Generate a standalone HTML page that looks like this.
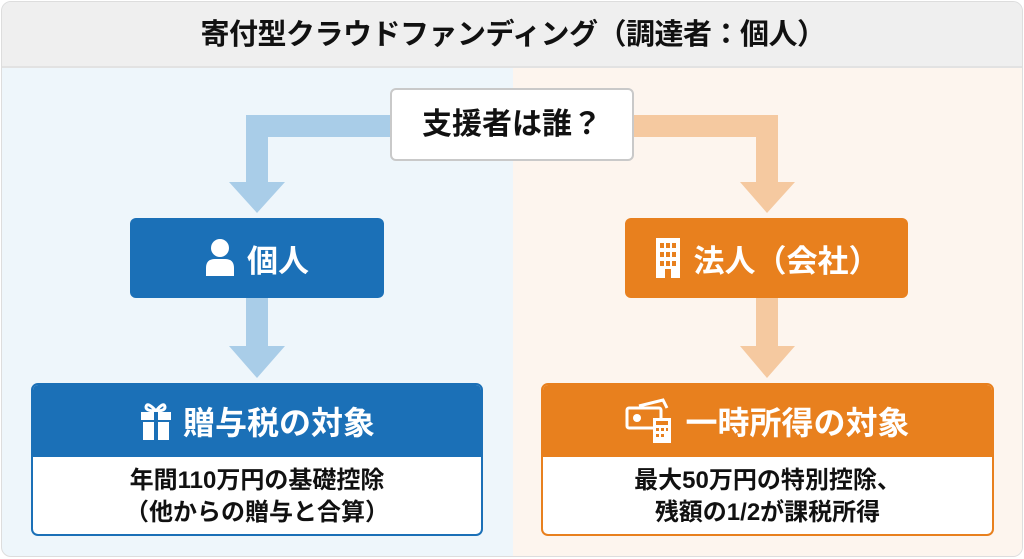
<!DOCTYPE html>
<html><head><meta charset="utf-8"><style>
*{margin:0;padding:0;box-sizing:border-box}
body{width:1024px;height:559px;background:#fff;font-family:"Liberation Sans","Noto Sans CJK JP",sans-serif;font-weight:bold;position:relative;overflow:hidden}
.abs{position:absolute}
.card{left:1px;top:1px;width:1022px;height:556px;border:1px solid #ddd;border-radius:10px;overflow:hidden;background:#eef6fb}
.title{left:0;top:0;width:1022px;height:66px;background:#efefef;border-bottom:2px solid #e2e2e2;text-align:center;line-height:66px;font-size:29px;color:#111;letter-spacing:-0.5px}
.right{left:511px;top:66px;width:512px;height:492px;background:#fdf5ee}
.q{left:390px;top:88px;width:244px;height:73px;background:#fff;border:2px solid #c9c9c9;border-radius:6px;text-align:center;line-height:69px;font-size:30px;color:#111}
.hb{border-radius:6px;color:#fff;font-size:31px;display:flex;align-items:center;justify-content:center;gap:12px}
.box{border-radius:7px;overflow:hidden;background:#fff}
.box .h{height:72px;color:#fff;font-size:32px;display:flex;align-items:center;justify-content:center;gap:10px}
.box .b{text-align:center;font-size:24px;color:#111;line-height:32px;padding-top:8px}
</style></head><body>
<div class="abs card">
<div class="abs right"></div>
<div class="abs title">寄付型クラウドファンディング（調達者：個人）</div>
</div>
<svg class="abs" style="left:0;top:0" width="1024" height="559">
<g fill="#a9cde8">
<rect x="246" y="115" width="146" height="22"/>
<rect x="246" y="115" width="22" height="68"/>
<polygon points="229,182 285,182 257,213"/>
<rect x="246" y="298" width="22" height="50"/>
<polygon points="229,346 285,346 257,378"/>
</g>
<g fill="#f5c9a0">
<rect x="632" y="115" width="146" height="22"/>
<rect x="756" y="115" width="22" height="68"/>
<polygon points="740,182 795,182 767,213"/>
<rect x="756" y="298" width="22" height="50"/>
<polygon points="740,346 795,346 767,378"/>
</g>
</svg>
<div class="abs q">支援者は誰？</div>
<div class="abs hb" style="left:130px;top:218px;width:254px;height:80px;background:#1b70b7">
<svg width="30" height="40" viewBox="0 0 30 40"><circle cx="15" cy="10" r="9" fill="#fff"/><path d="M1 38 V30 Q1 21 10 21 H20 Q29 21 29 30 V38Z" fill="#fff"/></svg>個人</div>
<div class="abs hb" style="left:625px;top:218px;width:283px;height:80px;background:#e8801e">
<svg width="28" height="42" viewBox="0 0 28 42"><rect x="2" y="1" width="24" height="40" fill="#fff"/><g fill="#e8801e"><rect x="6" y="6" width="4" height="5"/><rect x="12" y="6" width="4" height="5"/><rect x="18" y="6" width="4" height="5"/><rect x="6" y="15" width="4" height="5"/><rect x="12" y="15" width="4" height="5"/><rect x="18" y="15" width="4" height="5"/><rect x="6" y="24" width="4" height="5"/><rect x="12" y="24" width="4" height="5"/><rect x="18" y="24" width="4" height="5"/><rect x="11" y="32" width="6" height="9"/></g></svg>法人（会社）</div>
<div class="abs box" style="left:31px;top:383px;width:452px;height:153px;border:2px solid #1b70b7">
<div class="h" style="background:#1b70b7"><svg width="34" height="40" viewBox="0 0 34 40"><path d="M17 10 Q8 0 7 6 Q7 10 17 10 Q26 10 26 6 Q25 0 17 10Z" fill="none" stroke="#fff" stroke-width="3"/><rect x="2" y="11" width="30" height="8" fill="#fff"/><rect x="4" y="21" width="26" height="18" fill="#fff"/><rect x="15" y="11" width="4" height="28" fill="#1b70b7"/></svg>贈与税の対象</div>
<div class="b">年間110万円の基礎控除<br>（他からの贈与と合算）</div>
</div>
<div class="abs box" style="left:541px;top:383px;width:453px;height:153px;border:2px solid #e8801e">
<div class="h" style="background:#e8801e"><svg width="50" height="46" viewBox="0 0 50 46"><rect x="2" y="10" width="34" height="20" rx="2" fill="none" stroke="#fff" stroke-width="3"/><circle cx="12" cy="20" r="4" fill="#fff"/><path d="M14 8 L38 2 L42 10" fill="none" stroke="#fff" stroke-width="3"/><rect x="28" y="20" width="18" height="25" fill="#fff"/><g fill="#e8801e"><rect x="31" y="23" width="12" height="4"/><rect x="31" y="30" width="3" height="3"/><rect x="36" y="30" width="3" height="3"/><rect x="41" y="30" width="2" height="3"/><rect x="31" y="36" width="3" height="3"/><rect x="36" y="36" width="3" height="3"/></g></svg>一時所得の対象</div>
<div class="b">最大50万円の特別控除、<br>残額の1/2が課税所得</div>
</div>
</body></html>
